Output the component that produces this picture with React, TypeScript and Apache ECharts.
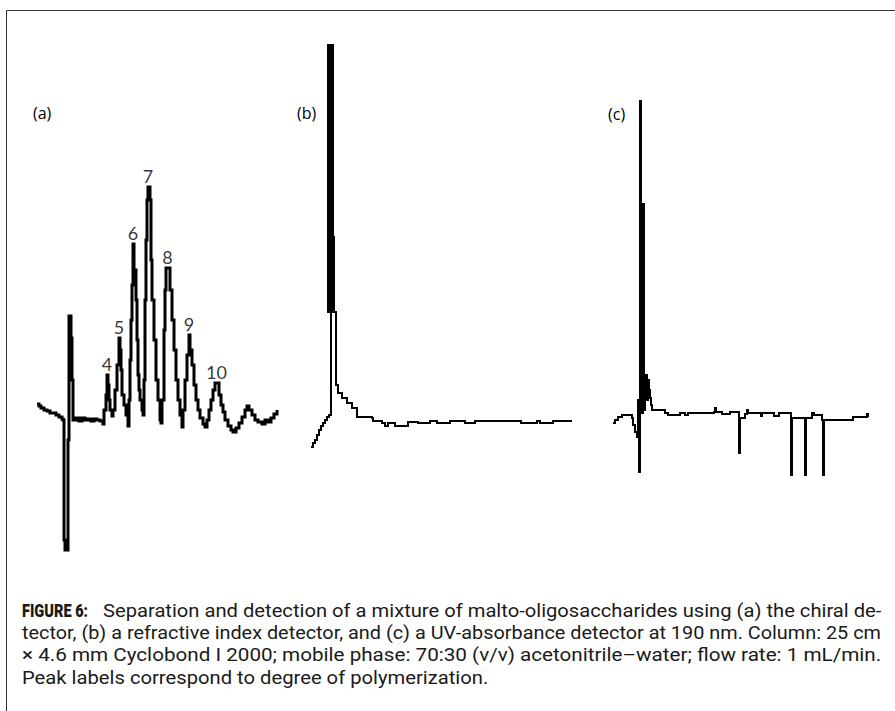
import React, { useEffect, useRef } from "react";
import * as echarts from "echarts";

// Trace (a): chiral detector — [retention (arb.), response (arb.)]
const traceA: number[][] = [
  [7, 6], [9, 4], [11, 2], [14, 0], [17, -1], [20, -3], [23, -3], [26, -5], [29, -7], [32, -9], [33, -10],
  [34, -130], [35, -140], [37, -140], [38, -30], [39, 94], [41, 94], [41, 72], [42, 30], [43, -10],
  [46, -8], [49, -11], [52, -8], [55, -10], [58, -9], [61, -11], [64, -9], [67, -10], [70, -11], [73, -14],
  [74, 0], [76, 15], [77, 35], [78, 25], [79, 10], [80, 0], [82, -6], [83, 0], [85, 20], [87, 45], [89, 72],
  [90, 60], [91, 40], [92, 15], [94, 5], [96, -5], [98, -16], [99, 10], [100, 50], [101, 90], [102, 125],
  [103, 166], [104, 140], [106, 110], [107, 70], [108, 35], [109, 20], [110, 10], [112, 0], [113, -5],
  [114, 30], [115, 110], [116, 170], [117, 210], [118, 223], [120, 210], [121, 150], [122, 110], [124, 70],
  [126, 30], [128, 10], [130, -10], [131, -13], [132, 10], [134, 80], [135, 120], [136, 142], [139, 142],
  [140, 120], [142, 90], [144, 60], [146, 30], [148, 10], [150, -5], [152, -17], [153, 0], [155, 30],
  [157, 55], [159, 75], [160, 60], [162, 45], [164, 25], [166, 10], [168, 0], [170, -8], [173, -14],
  [175, -17], [177, -10], [179, 0], [181, 10], [183, 20], [185, 27], [187, 27], [189, 15], [191, 5],
  [193, -2], [195, -10], [198, -16], [201, -20], [203, -22], [206, -18], [209, -13], [212, -7], [215, 0],
  [217, 4], [219, 0], [222, -5], [225, -10], [228, -12], [232, -14], [235, -10], [238, -12], [241, -8],
  [244, -4], [247, 0],
];

// Trace (b): refractive index detector
const traceB: number[][] = [
  [11, -37], [13, -33], [15, -30], [17, -25], [19, -20], [21, -16], [23, -13], [25, -10], [27, -7],
  [29, -5], [31, -3], [31, 98], [28, 98], [28, 365], [30, 365], [30, 98], [32, 110], [32, 365],
  [33, 365], [33, 173], [34, 173], [34, 98], [36, 93], [36, 25], [38, 17], [42, 12], [47, 7], [52, 2],
  [57, -7], [72, -8], [73, -11], [82, -13], [85, -16], [88, -13], [95, -16], [105, -16], [108, -12],
  [117, -12], [118, -13], [127, -13], [130, -11], [133, -11], [137, -13], [140, -13], [145, -13],
  [150, -11], [163, -11], [165, -13], [173, -13], [175, -11], [220, -11], [221, -13], [235, -13],
  [237, -11], [240, -13], [252, -13], [253, -11], [272, -11],
];

// Trace (c): UV-absorbance detector at 190 nm
const traceC: number[][] = [
  [13, -13], [15, -10], [18, -7], [22, -5], [28, -5], [32, -8], [33, -15], [35, -15], [35, -22],
  [37, -27], [38, 10], [39, -62], [40, -62], [40, 309], [41, 309], [41, 206], [42, 206], [42, -3],
  [43, -3], [43, 206], [44, 206], [44, 0], [45, 30], [46, 35], [47, 10], [48, 30], [49, 20], [50, 12],
  [51, 5], [52, 0], [62, 0], [65, -3], [68, -5], [78, -5],
  [80, -3], [84, -3], [85, -5], [88, -3], [114, -2], [115, 2], [116, -2], [122, -4], [128, -4],
  [130, -2], [137, -2], [139, -6], [139, -43], [140, -8], [144, -8], [145, -4], [147, 0], [148, -3],
  [160, -3], [161, -6], [162, -3], [173, -3], [174, -6], [178, -6], [179, -3], [190, -3], [191, -10],
  [191, -65], [192, -8], [197, -8], [205, -8], [205, -65], [206, -8], [210, -8], [212, -3], [214, -5],
  [220, -5], [222, -10], [223, -17], [223, -65], [224, -10], [230, -10], [252, -10], [253, -7],
  [266, -7], [267, -4], [268, -7],
];

// Peak labels: degree of polymerization
const dpLabels = ["4", "5", "6", "7", "8", "9", "10"];
const dpPeakX = [77, 89, 103, 118, 137.5, 159, 186.5];
const dpPeakY = [35, 72, 166, 223, 142, 75, 27];

const panelLabels = ["(a)", "(b)", "(c)"];

const captionBold = "FIGURE 6:";
const captionLines = [
  "Separation and detection of a mixture of malto-oligosaccharides using (a) the chiral de-",
  "tector, (b) a refractive index detector, and (c) a UV-absorbance detector at 190 nm. Column: 25 cm",
  "\u00D7 4.6 mm Cyclobond I 2000; mobile phase: 70:30 (v/v) acetonitrile\u2013water; flow rate: 1 mL/min.",
  "Peak labels correspond to degree of polymerization.",
];

const CAP_FONT = 'Roboto, "Liberation Sans", sans-serif';
const LBL_FONT = 'Lato, "Open Sans", sans-serif';
const PANEL_FONT = '"Open Sans", Lato, sans-serif';

function measure(text: string, font: string): number {
  const c = document.createElement("canvas");
  const ctx = c.getContext("2d");
  if (!ctx) return text.length * 8;
  ctx.font = font;
  return ctx.measureText(text).width;
}

export default function App() {
  const ref = useRef<HTMLDivElement>(null);
  useEffect(() => {
    document.body.style.margin = "0";
    if (!ref.current) return;
    const chart = echarts.init(ref.current, undefined, { renderer: "svg" });

    const capSize = 18;
    const boldFont = `900 ${capSize}px ${CAP_FONT}`;
    const regFont = `normal ${capSize}px ${CAP_FONT}`;
    const boldScale = 66 / measure(captionBold, boldFont);
    const s1 = 779 / measure(captionLines[0], regFont);
    const s2 = 860 / measure(captionLines[1], regFont);
    const s3 = 860 / measure(captionLines[2], regFont);
    const s4 = (s1 + s2 + s3) / 3;
    const capY = [611, 633, 655, 678];
    const capX = [103, 22, 22, 22];
    const scales = [s1, s2, s3, s4];

    const capText = (text: string, x: number, y: number, sc: number, bold: boolean) => ({
      type: "text",
      x,
      y,
      scaleX: Math.min(sc, 1.3),
      silent: true,
      style: {
        text,
        fill: "#1a1a1a",
        fontSize: capSize,
        fontFamily: CAP_FONT,
        fontWeight: bold ? 900 : "normal",
        verticalAlign: "middle",
        align: "left",
      },
    });

    const graphic: any[] = [
      {
        type: "polyline",
        silent: true,
        shape: { points: [[6.5, 711], [6.5, 10.5], [895, 10.5]] },
        style: { stroke: "#333", lineWidth: 1, fill: null },
      },
      ...panelLabels.map((t, i) => ({
        type: "text",
        x: [33, 297, 608][i],
        y: [113, 113, 114][i],
        silent: true,
        style: { text: t, fontSize: 16, fontFamily: PANEL_FONT, fill: "#000", verticalAlign: "middle" },
      })),
      capText(captionBold, 22, capY[0], boldScale, true),
      ...captionLines.map((t, i) => capText(t, capX[i], capY[i], scales[i], false)),
    ];

    const grids = [
      { left: 30, top: 40, width: 260, height: 530 },
      { left: 300, top: 40, width: 290, height: 530 },
      { left: 600, top: 40, width: 280, height: 530 },
    ];
    const xMax = [260, 290, 280];

    const lineSeries = (data: number[][], idx: number, w: number) => ({
      type: "line",
      xAxisIndex: idx,
      yAxisIndex: idx,
      data,
      step: "end",
      symbol: "none",
      silent: true,
      lineStyle: { color: "#000", width: w, join: "miter" },
    });

    chart.setOption({
      animation: false,
      backgroundColor: "#fff",
      grid: grids.map((g) => ({ ...g, containLabel: false, show: false })),
      xAxis: grids.map((_, i) => ({
        type: "value",
        gridIndex: i,
        min: 0,
        max: xMax[i],
        show: false,
      })),
      yAxis: grids.map((_, i) => ({
        type: "value",
        gridIndex: i,
        min: -160,
        max: 370,
        show: false,
      })),
      series: [
        lineSeries(traceA, 0, 3),
        lineSeries(traceB, 1, 2),
        lineSeries(traceC, 2, 2),
        {
          type: "scatter",
          xAxisIndex: 0,
          yAxisIndex: 0,
          silent: true,
          symbolSize: 1,
          itemStyle: { color: "rgba(0,0,0,0)" },
          data: dpLabels.map((n, i) => ({ name: n, value: [dpPeakX[i], dpPeakY[i]] })),
          label: {
            show: true,
            position: "top",
            distance: 2,
            formatter: (p: any) => p.name,
            fontSize: 18,
            fontFamily: LBL_FONT,
            color: "#000",
          },
        },
      ],
      graphic,
    });

    return () => chart.dispose();
  }, []);

  return <div ref={ref} style={{ width: 895, height: 711 }} />;
}
